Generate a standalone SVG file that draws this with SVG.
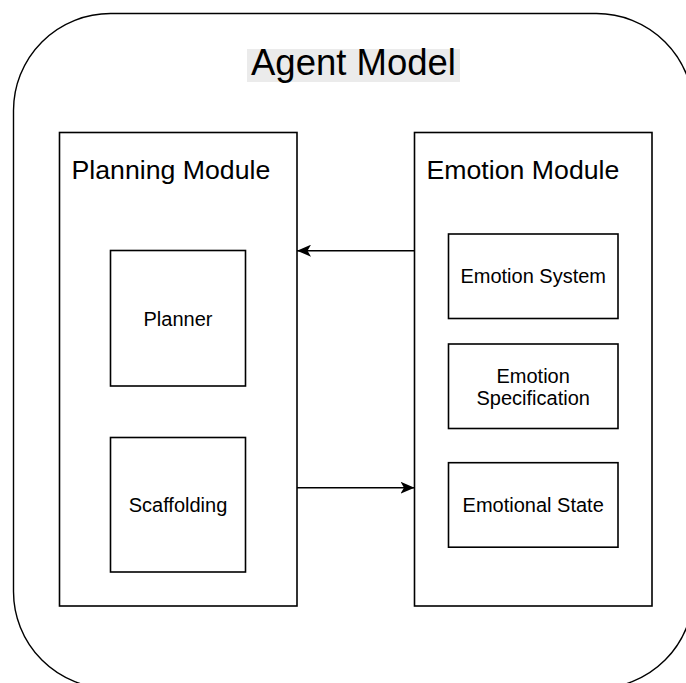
<svg xmlns="http://www.w3.org/2000/svg" width="686" height="683" viewBox="0 0 686 683">
  <defs>
    <style>
      .box { fill: #ffffff; stroke: #000000; stroke-width: 1.6; }
      .frame { fill: #ffffff; stroke: #000000; stroke-width: 1.4; }
      .title { font-family: "Liberation Sans", Arial, sans-serif; font-size: 26.7px; fill: #000000; }
      .label { font-family: "Liberation Sans", Arial, sans-serif; font-size: 20px; fill: #000000; text-anchor: middle; }
      .edge { fill: none; stroke: #000000; stroke-width: 1.6; }
    </style>
    <marker id="arrow" viewBox="0 0 14 12" refX="14" refY="6" markerWidth="14" markerHeight="12" markerUnits="userSpaceOnUse" orient="auto">
      <path d="M0,0 L14,6 L0,12 L3.5,6 Z" fill="#000000"/>
    </marker>
  </defs>

  <!-- outer container -->
  <g id="agent-model">
    <rect class="frame" x="13.5" y="13.5" width="680" height="675" rx="97" ry="97"/>
    <rect x="247" y="49" width="213" height="33" fill="#ebebeb"/>
    <text x="353.5" y="75" font-family="'Liberation Sans', Arial, sans-serif" font-size="36.5" text-anchor="middle" fill="#000000">Agent Model</text>
  </g>

  <!-- planning side -->
  <g id="planning-module">
    <rect class="box" x="59.5" y="132.5" width="237.5" height="473.5"/>
    <text class="title" x="71.5" y="178.5">Planning Module</text>
  </g>
  <g id="planner">
    <rect class="box" x="110.5" y="250.5" width="135" height="135.5"/>
    <text class="label" x="178" y="326">Planner</text>
  </g>
  <g id="scaffolding">
    <rect class="box" x="110.5" y="437.5" width="135" height="134.5"/>
    <text class="label" x="178" y="512">Scaffolding</text>
  </g>

  <!-- emotion side -->
  <g id="emotion-module">
    <rect class="box" x="414.5" y="132.5" width="237.5" height="473.5"/>
    <text class="title" x="426.5" y="178.5">Emotion Module</text>
  </g>
  <g id="emotion-system">
    <rect class="box" x="448.5" y="234" width="169.5" height="84.5"/>
    <text class="label" x="533.2" y="283.3">Emotion System</text>
  </g>
  <g id="emotion-specification">
    <rect class="box" x="448.5" y="344" width="169.5" height="84.5"/>
    <text class="label" x="533.2" y="382.5">Emotion</text>
    <text class="label" x="533.2" y="404.5">Specification</text>
  </g>
  <g id="emotional-state">
    <rect class="box" x="448.5" y="462.7" width="169.5" height="84.5"/>
    <text class="label" x="533.2" y="512.3">Emotional State</text>
  </g>

  <!-- connectors -->
  <g id="connectors">
    <line class="edge" x1="414.5" y1="250.7" x2="297" y2="250.7" marker-end="url(#arrow)"/>
    <line class="edge" x1="297" y1="487.7" x2="414.5" y2="487.7" marker-end="url(#arrow)"/>
  </g>
</svg>
